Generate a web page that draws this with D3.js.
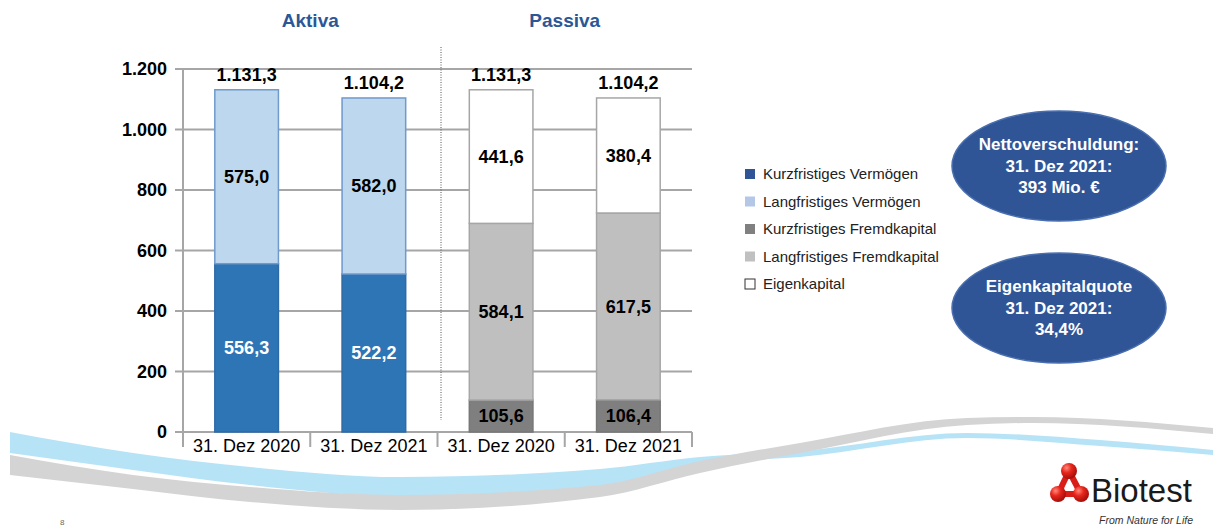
<!DOCTYPE html>
<html>
<head>
<meta charset="UTF-8">
<title>Bilanz</title>
<script src="https://cdn.jsdelivr.net/npm/d3@7/dist/d3.min.js"></script>
<style>
  body { margin: 0; background: #fff; }
  svg { display: block; font-family: "Liberation Sans", Arial, sans-serif; }
</style>
</head>
<body>
<svg id="svg" width="1213" height="527"></svg>
<script>
// data
const categories = ["31. Dez 2020", "31. Dez 2021", "31. Dez 2020", "31. Dez 2021"];
const groupTitles = ["Aktiva", "Passiva"];
const seriesNames = ["Kurzfristiges Vermögen", "Langfristiges Vermögen", "Kurzfristiges Fremdkapital", "Langfristiges Fremdkapital", "Eigenkapital"];
const kurzVermoegen = [556.3, 522.2, 0, 0];
const langVermoegen = [575.0, 582.0, 0, 0];
const kurzFremd = [0, 0, 105.6, 106.4];
const langFremd = [0, 0, 584.1, 617.5];
const eigenkapital = [0, 0, 441.6, 380.4];
const totals = [1131.3, 1104.2, 1131.3, 1104.2];
const yTicks = [0, 200, 400, 600, 800, 1000, 1200];
const bubbleNetto = ["Nettoverschuldung:", "31. Dez 2021:", "393 Mio. €"];
const bubbleEK = ["Eigenkapitalquote", "31. Dez 2021:", "34,4%"];

const barColors = ["#2E75B6", "#BDD7EE", "#7F7F7F", "#BFBFBF", "#FFFFFF"];
const barStrokes = ["#2E6AA6", "#6F9ACB", "#777777", "#A6A6A6", "#A6A6A6"];
const legendColors = ["#2F5597", "#B4C7E7", "#808080", "#C0C0C0", "#FFFFFF"];
const labelColors = ["#FFFFFF", "#000000", "#000000", "#000000", "#000000"];

const de = d3.formatLocale({ decimal: ",", thousands: ".", grouping: [3], currency: ["", "€"] });
const fmt1 = de.format(",.1f");
const fmt0 = de.format(",");

const svg = d3.select("#svg");

// background swooshes
const blueBand = [[10, 432, 453], [133, 453, 470], [250, 467, 485], [400, 477, 496], [600, 469, 486], [700, 457, 464], [800, 451, 457], [967, 433, 438], [1100, 440, 446], [1213, 450, 455]];
const grayBand = [[10, 455, 475], [133, 475, 489], [250, 487, 502], [400, 495, 510], [600, 485, 497], [700, 461, 473], [800, 443, 453], [967, 418, 425], [1033, 417, 423], [1213, 428, 434]];
const band = d3.area().x(d => d[0]).y0(d => d[1]).y1(d => d[2]).curve(d3.curveMonotoneX);
svg.append("path").attr("d", band(blueBand)).attr("fill", "#B7E3F7");
svg.append("path").attr("d", band(grayBand)).attr("fill", "#D4D4D4");

const y = d3.scaleLinear().domain([0, 1200]).range([432, 69]);
const x = d3.scaleBand().domain(d3.range(categories.length)).range([183, 692]).paddingInner(0.5).paddingOuter(0.25);

// gridlines
svg.append("g").selectAll("line").data(yTicks).join("line")
  .attr("x1", 175).attr("x2", 692)
  .attr("y1", d => y(d)).attr("y2", d => y(d))
  .attr("stroke", "#A6A6A6").attr("stroke-width", 2);
svg.append("line").attr("x1", 183).attr("x2", 183).attr("y1", y(1200)).attr("y2", y(0))
  .attr("stroke", "#A6A6A6").attr("stroke-width", 2);

// y axis labels
const yAxis = svg.append("g").attr("transform", "translate(175,0)")
  .call(d3.axisLeft(y).tickValues(yTicks).tickFormat(fmt0).tickSize(0).tickPadding(8));
yAxis.select(".domain").remove();
yAxis.selectAll("text").attr("font-size", 18).attr("font-weight", "bold").attr("fill", "#000")
  .attr("font-family", "Liberation Sans, Arial, sans-serif");

// category separators
svg.append("g").selectAll("line").data(d3.range(categories.length + 1)).join("line")
  .attr("x1", i => 183 + i * x.step()).attr("x2", i => 183 + i * x.step())
  .attr("y1", y(0)).attr("y2", y(0) + 15)
  .attr("stroke", "#A6A6A6").attr("stroke-width", 2);

const xAxis = svg.append("g").attr("transform", `translate(0,${y(0)})`)
  .call(d3.axisBottom(x).tickFormat(i => categories[i]).tickSize(0).tickPadding(7));
xAxis.select(".domain").remove();
xAxis.selectAll("text").attr("font-size", 18).attr("fill", "#000")
  .attr("font-family", "Liberation Sans, Arial, sans-serif");

// stacked bars
const rows = categories.map((c, i) => ({
  [seriesNames[0]]: kurzVermoegen[i],
  [seriesNames[1]]: langVermoegen[i],
  [seriesNames[2]]: kurzFremd[i],
  [seriesNames[3]]: langFremd[i],
  [seriesNames[4]]: eigenkapital[i]
}));
const stacked = d3.stack().keys(seriesNames)(rows);

stacked.forEach((s, k) => {
  const g = svg.append("g");
  const segs = s.map((d, i) => ({ i, y0: d[0], y1: d[1], v: d[1] - d[0] })).filter(d => d.v > 0);
  g.selectAll("rect").data(segs).join("rect")
    .attr("x", d => x(d.i)).attr("width", x.bandwidth())
    .attr("y", d => y(d.y1)).attr("height", d => y(d.y0) - y(d.y1))
    .attr("fill", barColors[k]).attr("stroke", barStrokes[k]).attr("stroke-width", 1.5);
  g.selectAll("text").data(segs).join("text")
    .attr("x", d => x(d.i) + x.bandwidth() / 2)
    .attr("y", d => y((d.y0 + d.y1) / 2))
    .attr("dy", "0.35em").attr("text-anchor", "middle")
    .attr("font-size", 18).attr("font-weight", "bold").attr("fill", labelColors[k])
    .text(d => fmt1(d.v));
});

// totals
svg.append("g").selectAll("text").data(totals).join("text")
  .attr("x", (d, i) => x(i) + x.bandwidth() / 2)
  .attr("y", d => y(d) - 9)
  .attr("text-anchor", "middle").attr("font-size", 18).attr("font-weight", "bold").attr("fill", "#000")
  .text(d => fmt1(d));

// group titles + separator
svg.append("g").selectAll("text").data(groupTitles).join("text")
  .attr("x", (d, i) => (x(i * 2) + x(i * 2 + 1) + x.bandwidth()) / 2)
  .attr("y", 27)
  .attr("text-anchor", "middle").attr("font-size", 19).attr("font-weight", "bold").attr("fill", "#2B5797")
  .text(d => d);
svg.append("line").attr("x1", 441).attr("x2", 441).attr("y1", 47).attr("y2", 420)
  .attr("stroke", "#555").attr("stroke-width", 1).attr("stroke-dasharray", "1,1.5");

// legend
const legend = svg.append("g").attr("transform", "translate(745,174)");
const li = legend.selectAll("g").data(seriesNames).join("g")
  .attr("transform", (d, i) => `translate(0,${i * 27.5})`);
li.append("rect").attr("x", 0).attr("y", -5).attr("width", 10).attr("height", 10)
  .attr("fill", (d, i) => legendColors[i])
  .attr("stroke", (d, i) => i === 4 ? "#333" : "none").attr("stroke-width", 1);
li.append("text").attr("x", 18).attr("dy", "0.35em")
  .attr("font-size", 15).attr("fill", "#222").text(d => d);

// bubbles
function bubble(cx, cy, lines) {
  const g = svg.append("g");
  g.append("ellipse").attr("cx", cx).attr("cy", cy).attr("rx", 107).attr("ry", 55)
    .attr("fill", "#2F5597").attr("stroke", "#4A6FAE").attr("stroke-width", 1.5);
  g.selectAll("text").data(lines).join("text")
    .attr("x", cx).attr("y", (d, i) => cy - 21.5 + i * 21.5)
    .attr("dy", "0.35em").attr("text-anchor", "middle")
    .attr("font-size", 17).attr("font-weight", "bold").attr("fill", "#fff")
    .text(d => d);
}
bubble(1059, 166, bubbleNetto);
bubble(1059, 308, bubbleEK);

// logo
const defs = svg.append("defs");
const rg = defs.append("radialGradient").attr("id", "ball").attr("cx", "35%").attr("cy", "30%").attr("r", "70%");
rg.append("stop").attr("offset", "0%").attr("stop-color", "#FF8A7A");
rg.append("stop").attr("offset", "45%").attr("stop-color", "#E8261C");
rg.append("stop").attr("offset", "100%").attr("stop-color", "#A50F0B");
const balls = [[1069, 471], [1058, 494], [1081, 494]];
const logo = svg.append("g");
logo.append("path").attr("d", d3.line()([...balls, balls[0]]))
  .attr("fill", "none").attr("stroke", "#D81E16").attr("stroke-width", 6).attr("stroke-linejoin", "round");
logo.selectAll("circle").data(balls).join("circle")
  .attr("cx", d => d[0]).attr("cy", d => d[1]).attr("r", 8).attr("fill", "url(#ball)");
svg.append("text").attr("x", 1091).attr("y", 502).attr("font-size", 33).attr("fill", "#1a1a1a")
  .text("Biotest");
svg.append("text").attr("x", 1193).attr("y", 524).attr("text-anchor", "end")
  .attr("font-size", 10.5).attr("font-style", "italic").attr("fill", "#333")
  .text("From Nature for Life");
svg.append("text").attr("x", 60).attr("y", 525).attr("font-size", 8).attr("fill", "#666").text("8");
</script>
</body>
</html>
